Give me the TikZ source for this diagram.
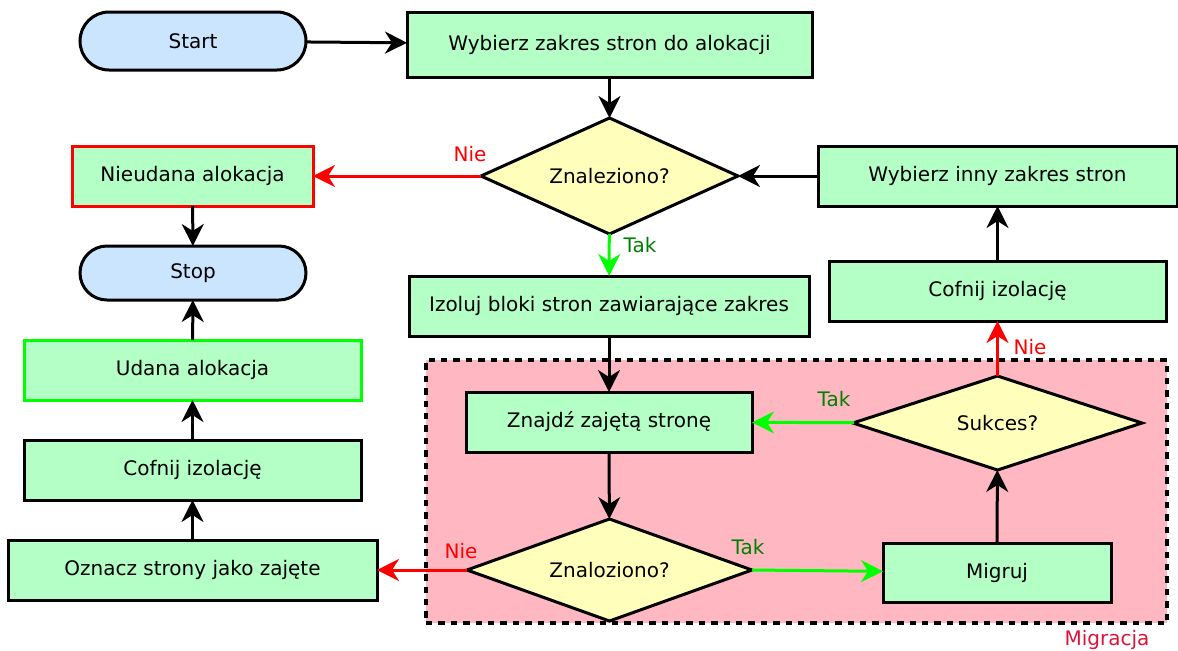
\documentclass[tikz,border=0pt]{standalone}
\usepackage{fontspec}
\setmainfont{DejaVu Sans}
\usetikzlibrary{shapes.geometric,shapes.misc,arrows.meta}
\definecolor{boxgreen}{RGB}{179,255,198}
\definecolor{pillblue}{RGB}{204,229,255}
\definecolor{askyellow}{RGB}{255,255,187}
\definecolor{migpink}{RGB}{255,184,194}
\definecolor{takgreen}{RGB}{0,128,0}
\definecolor{linegreen}{RGB}{0,255,0}
\definecolor{migred}{RGB}{220,20,60}
\def\u{0.5pt}
\tikzset{block/.style={
        font=\fontsize{10}{12}\selectfont,
        draw=black,
        line width=1.5pt,
        fill=boxgreen,
        rectangle,
        inner sep=0pt,
        minimum width=#1*\u,
        minimum height=60*\u,
        outer sep=0pt},
        %
        pill/.style={
            block=226,
            rounded rectangle,
            fill=pillblue},
        ask/.style={
            block=#1,
            diamond,
            aspect=2.5,
            fill=askyellow}
        }

\begin{document}
\begin{tikzpicture}[x=0.5pt,y=-0.5pt,
                flow/.style={draw=black,line width=1.5pt,-{Stealth[length=11pt,width=11pt,inset=3.5pt]}},
                yes/.style={flow,draw=linegreen},
                no/.style={flow,draw=red},
                lbl/.style={font=\fontsize{10}{12}\selectfont,inner sep=0pt}
                ]
\useasboundingbox (0,0) rectangle (1178,650);

% obszar migracji
\node[draw=black,line width=1.6pt,dash pattern=on 3.2pt off 3pt,fill=migpink,
      minimum width=741*\u,minimum height=263*\u,inner sep=0pt] (M) at (796.5,491.5) {};
\node[lbl,text=migred] (ML) at (1107,640) {Migracja};

\node[pill,minimum height=58*\u] (S) at (193,41) {Start};
\node[block=405,minimum height=65*\u] (A) at (609.5,44.5) {Wybierz zakres stron do alokacji};
\node[ask=257,minimum height=116*\u] (D1) at (609.5,176) {Znaleziono?};
\node[block=241,draw=red] (N) at (192.5,176) {Nieudana alokacja};
\node[block=359] (B) at (997.5,176) {Wybierz inny zakres stron};
\node[pill,minimum height=54*\u] (E) at (193,273) {Stop};
\node[block=400] (C1) at (609,306) {Izoluj bloki stron zawiarające zakres};
\node[block=337] (C2) at (997.5,291) {Cofnij izolację};

\node[block=286] (F) at (609,422) {Znajdź zajętą stronę};
\node[ask=285,minimum height=102*\u] (D2) at (609.5,570) {Znaloziono?};
\node[block=228,minimum height=59*\u] (G) at (997,572.5) {Migruj};
\node[ask=289,minimum height=94*\u] (D3) at (997.5,423) {Sukces?};

\node[block=337,draw=linegreen] (U) at (192.5,370) {Udana alokacja};
\node[block=337] (C3) at (192.5,470) {Cofnij izolację};
\node[block=369] (H) at (192.5,570) {Oznacz strony jako zajęte};

\draw[flow] (S) -- (A);
\draw[flow] (A) -- (D1);
\draw[no] (D1) -- (N);
\draw[flow] (B) -- (D1);
\draw[flow] (N) -- (E);
\draw[yes] (D1) -- (C1);
\draw[flow] (C1) -- (F);
\draw[flow] (F) -- (D2);
\draw[no] (D2) -- (H);
\draw[yes] (D2.east) -- (G);
\draw[flow] (G) -- (D3);
\draw[yes] (D3) -- (F);
\draw[no] (D3) -- (C2);
\draw[flow] (C2) -- (B);
\draw[flow] (H) -- (C3);
\draw[flow] (C3) -- (U);
\draw[flow] (U) -- (E);

\node[lbl,text=red] (L1) at (470,154) {Nie};
\node[lbl,text=takgreen] (L2) at (640,245) {Tak};
\node[lbl,text=red] (L3) at (461,551) {Nie};
\node[lbl,text=takgreen] (L4) at (748,547) {Tak};
\node[lbl,text=takgreen] (L5) at (834,399) {Tak};
\node[lbl,text=red] (L6) at (1030,347) {Nie};
\end{tikzpicture}
\end{document}
